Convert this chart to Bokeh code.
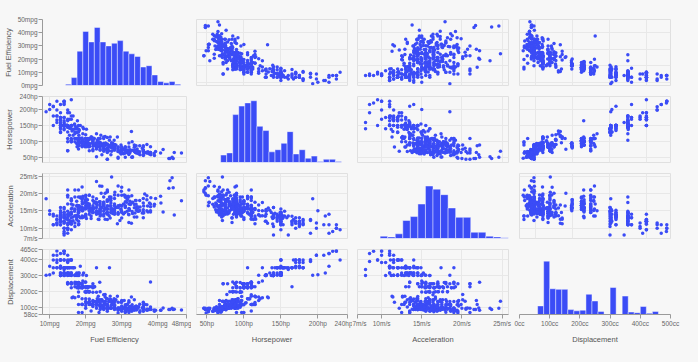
import numpy as np
from bokeh.plotting import figure
from bokeh.layouts import gridplot
from bokeh.models import Range1d, FixedTicker, PrintfTickFormatter, Grid, ColumnDataSource
from bokeh.embed import file_html
from bokeh.resources import INLINE

# ---- per-car values (None = missing) ----
mpg = [18,15,18,16,17,15,14,14,14,15,15,14,15,14,24,22,18,21,27,26,25,24,25,26,21,10,10,11,9,
27,28,25,25,19,16,17,19,18,14,14,14,14,12,13,13,18,22,19,18,23,28,30,30,31,35,27,26,
24,25,23,20,21,13,14,15,14,17,11,13,12,13,19,15,13,13,14,18,22,21,26,22,28,23,28,27,
13,14,13,14,15,12,13,13,14,13,12,13,18,16,18,18,23,26,11,12,13,12,18,20,21,22,18,19,21,26,15,16,29,24,20,19,15,24,20,11,
20,21,19,15,31,26,32,25,16,16,18,16,13,14,14,14,29,26,26,31,32,28,24,26,24,26,31,
19,18,15,15,16,15,16,14,17,16,15,18,21,20,13,29,23,20,23,24,25,24,18,29,19,23,23,22,25,33,
28,25,25,26,27,17.5,16,15.5,14.5,22,22,24,22.5,29,24.5,29,33,20,18,18.5,17.5,29.5,32,28,26.5,20,13,19,19,16.5,16.5,13,13,13,
31.5,30,36,25.5,33.5,17.5,17,15.5,15,17.5,20.5,19,18.5,16,15.5,15.5,16,29,24.5,26,25.5,30.5,33.5,30,30.5,22,21.5,21.5,
43.1,36.1,32.8,39.4,36.1,19.9,19.4,20.2,19.2,20.5,20.2,25.1,20.5,19.4,20.6,20.8,18.6,18.1,19.2,17.7,18.1,17.5,30,27.5,27.2,30.9,21.1,23.2,23.8,23.9,20.3,17,21.6,16.2,31.5,29.5,
21.5,19.8,22.3,20.2,20.6,17,17.6,16.5,18.2,16.9,15.5,19.2,18.5,31.9,34.1,35.7,27.4,25.4,23,27.2,23.9,34.2,34.5,31.8,37.3,28.4,28.8,26.8,33.5,
41.5,38.1,32.1,37.2,28,26.4,24.3,19.1,34.3,29.8,31.3,37,32.2,46.6,27.9,40.8,44.3,43.4,36.4,30,44.6,40.9,33.8,29.8,32.7,23.7,35,23.6,32.4,
27.2,26.6,25.8,23.5,30,39.1,39,35.1,32.3,37,37.7,34.1,34.7,34.4,29.9,33,34.5,33.7,32.4,32.9,31.6,28.1,30.7,25.4,24.2,22.4,26.6,20.2,17.6,
28,27,34,31,29,27,24,36,37,31,38,36,36,36,34,38,32,38,25,38,26,22,32,36,27,27,44,32,28,31,
None,None,None,None,None,None,None,None]

horsepower = [130,165,150,150,140,198,220,215,225,190,170,160,150,225,95,95,97,85,88,46,87,90,95,113,90,215,200,210,193,
88,90,95,None,100,105,100,88,100,165,175,153,150,180,170,175,110,72,100,88,86,90,70,76,65,69,60,70,
95,80,54,90,86,165,175,150,153,150,208,155,160,190,97,150,130,140,150,112,76,87,69,86,92,97,80,88,
175,150,145,137,150,198,150,158,150,215,225,175,105,100,100,88,95,46,150,167,170,180,100,88,72,94,90,85,107,90,145,230,49,75,91,112,150,110,122,180,
95,None,100,100,67,80,65,75,100,110,105,140,150,150,140,150,83,67,78,52,61,75,75,75,97,93,67,
95,105,72,72,170,145,150,148,110,105,110,95,110,110,129,75,83,100,78,96,71,97,97,70,90,95,88,98,115,53,
86,81,92,79,83,140,150,120,152,100,105,81,90,52,60,70,53,100,78,110,95,71,70,75,72,102,150,88,108,120,180,145,130,150,
68,80,58,96,70,145,110,145,130,110,105,100,98,180,170,190,149,78,88,75,89,63,83,67,78,97,110,110,
48,66,52,70,60,110,140,139,105,95,85,88,100,90,105,85,110,120,145,165,139,140,68,95,97,75,95,105,85,97,103,125,115,133,71,68,
115,85,88,90,110,130,129,138,135,155,142,125,150,71,65,80,80,77,125,71,90,70,70,65,69,90,115,115,90,
76,60,70,65,90,88,90,90,78,90,75,92,75,65,105,65,48,48,67,67,67,None,67,62,132,100,88,None,72,
84,84,92,110,84,58,64,60,67,65,62,68,63,65,65,74,None,75,75,100,74,80,76,116,120,110,105,88,85,
88,88,88,85,84,90,92,74,68,68,63,70,88,75,70,67,67,67,110,85,92,112,96,84,90,86,52,84,79,82,
115,165,153,175,175,140,48,110]

acceleration = [12,11.5,11,12,10.5,10,9,8.5,10,8.5,10,8,9.5,10,15,15.5,15.5,16,14.5,20.5,17.5,14.5,17.5,12.5,15,14,15,13.5,18.5,
14.5,15.5,14,19,13,15.5,15.5,15.5,15.5,12,11.5,13.5,13,11.5,12,12,13.5,19,15,14.5,14,14,19.5,14.5,19,18,19,20.5,
15.5,17,23.5,19.5,16.5,12,12,13.5,13,11.5,11,13.5,13.5,12.5,13.5,12.5,14,16,14,14.5,18,19.5,18,16,17,14.5,15,16.5,
13,11.5,13,14.5,12.5,11.5,12,13,14.5,11,11,11,16.5,18,16,16.5,16,21,14,12.5,13,12.5,15,19,19.5,16.5,13.5,18.5,14,15.5,13,9.5,19.5,15.5,14,15.5,11,14,13.5,11,
16.5,17,16,17,19,16.5,21,17,17,18,16.5,14,14.5,13.5,16,15.5,16.5,15.5,14.5,16.5,19,14.5,15.5,14,15,15.5,16,
16,16,21,19.5,11.5,14,14.5,13.5,21,18.5,19,19,15,13.5,12,16,17,16,18.5,13.5,16.5,17,14.5,14,17,15,17,14.5,13.5,17.5,
15.5,16.9,14.9,17.7,15.3,13,13,13.9,12.8,15.4,14.5,17.6,17.6,22.2,22.1,14.2,17.4,17.7,21,16.2,17.8,12.2,17,16.4,13.6,15.7,13.2,21.9,15.5,16.7,12.1,12,15,14,
18.5,14.8,18.6,15.5,16.8,12.5,19,13.7,14.9,16.4,16.9,17.7,19,11.1,11.4,12.2,14.5,14.5,16,18.2,15.8,17,15.9,16.4,14.1,14.5,12.8,13.5,
21.5,14.4,19.4,18.6,16.4,15.5,13.2,12.8,19.2,18.2,15.8,15.4,17.2,17.2,15.8,16.7,18.7,15.1,13.2,13.4,11.2,13.7,16.5,14.2,14.7,14.5,14.8,16.7,17.6,14.9,15.9,13.6,15.7,15.8,14.9,16.6,
15.4,18.2,17.3,18.2,16.6,15.4,13.4,13.2,15.2,14.9,14.3,15,13,14,15.2,14.4,15,20.1,17.4,24.8,22.2,13.2,14.9,19.2,14.7,16,11.3,12.9,13.2,
14.7,18.8,15.5,16.4,16.5,18.1,20.1,18.7,15.8,15.5,17.5,15,15.2,17.9,14.4,19.2,21.7,23.7,19.9,21.8,13.8,17.3,18,15.3,11.4,12.5,15.1,14.3,17,
15.7,16.4,14.4,12.6,12.9,16.9,16.4,16.1,17.8,19.4,17.3,16,14.9,16.2,20.7,14.2,15.8,14.4,16.8,14.8,18.3,20.4,19.6,12.6,13.8,15.8,19,17.1,16.6,
19.6,18.6,18,16.2,16,18,16.4,15.3,18.2,17.6,14.7,17.3,14.5,14.5,16.9,15,15.7,16.2,16.4,17,14.5,14.7,13.9,13,17.3,15.6,24.6,11.6,18.6,19.4,
17.5,11,11,10.5,11,8,20,14.5]

displacement = [307,350,318,304,302,429,454,440,455,390,383,340,400,455,113,198,199,200,97,97,110,107,104,121,199,360,307,318,304,
97,140,113,98,232,225,250,250,232,350,400,351,318,383,400,400,258,140,250,250,122,116,79,88,71,72,97,91,
113,97.5,97,140,122,350,400,318,351,304,429,350,350,400,70,304,307,302,318,121,121,120,96,122,97,120,98,97,
350,304,350,302,318,429,400,351,318,440,455,360,225,250,232,250,198,97,400,400,360,350,232,97,140,108,70,122,155,98,350,400,68,116,114,121,318,121,156,350,
198,200,232,250,79,122,71,140,250,258,225,302,350,318,302,304,98,79,97,76,83,90,90,116,120,108,79,
225,250,250,250,400,350,318,351,231,250,258,225,231,262,302,97,140,232,140,134,90,119,171,90,232,115,120,121,121,91,
107,116,140,98,101,305,318,304,351,225,250,200,232,85,98,90,91,225,250,250,258,97,85,97,140,130,318,120,156,168,350,350,302,318,
98,111,79,122,85,305,260,318,302,250,231,225,250,400,350,400,351,97,151,97,140,98,98,97,97,146,121,80,
90,98,78,85,91,260,318,302,231,200,200,140,225,232,231,200,225,258,305,231,302,318,98,134,119,105,134,156,151,119,131,163,121,163,89,98,
231,200,140,232,225,305,302,351,318,350,351,267,360,89,86,98,121,183,350,141,260,105,105,85,91,151,173,173,151,
98,89,98,86,151,140,151,225,97,134,120,119,108,86,156,85,90,90,121,146,91,85,97,89,168,70,122,140,107,
135,151,156,173,135,79,86,81,97,85,89,91,105,98,98,105,100,107,108,119,120,141,145,168,146,231,350,200,225,
112,112,112,112,135,151,140,105,91,91,105,98,120,107,108,91,91,91,181,262,156,232,144,135,151,140,97,135,120,119,
133,350,351,383,360,302,97,121]

# ---- histogram bars ----
mpg_bins = list(range(8, 50, 2))
mpg_counts = [1,6,26,41,33,44,33,30,32,34,26,24,22,14,15,8,3,2,3,1]
hp_bins = list(range(40, 250, 10))
hp_counts = [7,9,45,53,56,58,34,30,10,12,18,29,8,12,4,6,1,3,3,1]
accel_bins = list(range(8, 26, 1))
accel_counts = [3,2,6,23,28,44,67,63,56,39,27,27,8,8,3,2,1]
disp_bins = list(range(60, 480, 20))
disp_counts = [14,87,42,41,41,8,6,7,33,22,5,0,44,0,30,4,3,13,2,5]

# ---- axis ticks ----
mpg_ticks = [10, 20, 30, 40, 48]
hp_ticks = [50, 100, 150, 200, 240]
accel_ticks = [7, 10, 15, 20, 25]
disp_ticks = [58, 100, 200, 300, 400, 465]
mpg_hist_y_ticks = [0, 10, 20, 30, 40, 50]
disp_hist_x_ticks = [0, 100, 200, 300, 400, 500]

fields = [
    dict(key="mpg", title="Fuel Efficiency", unit="mpg", rng=(8, 48), ticks=mpg_ticks,
         bins=mpg_bins, counts=mpg_counts, hx=(0, 50), hy=(0, 50)),
    dict(key="hp", title="Horsepower", unit="hp", rng=(36, 240), ticks=hp_ticks,
         bins=hp_bins, counts=hp_counts, hx=(0, 250), hy=(0, 62)),
    dict(key="acc", title="Acceleration", unit="m/s", rng=(7, 25.8), ticks=accel_ticks,
         bins=accel_bins, counts=accel_counts, hx=(5, 25), hy=(0, 83)),
    dict(key="disp", title="Displacement", unit="cc", rng=(58, 465), ticks=disp_ticks,
         bins=disp_bins, counts=disp_counts, hx=(0, 500), hy=(0, 106)),
]

src = ColumnDataSource(dict(
    mpg=np.array(mpg, dtype=float),
    hp=np.array(horsepower, dtype=float),
    acc=np.array(acceleration, dtype=float),
    disp=np.array(displacement, dtype=float),
))

BLUE = "#3b4cf6"
BG = "#f7f7f7"
FONT = "Liberation Sans"
FRAME_W = [151, 151, 151, 151]
FRAME_H = [66, 66, 65, 65]
COL_L = [35, 5, 5, 6]
COL_R = [5, 5, 5, 28]
ROW_T = [19, 6, 6, 6]
ROW_B = [5, 5, 5, 48]


def style_axis(ax, ticks, unit, label, standoff):
    ax.ticker = FixedTicker(ticks=ticks)
    ax.formatter = PrintfTickFormatter(format="%d" + unit)
    ax.axis_label = label
    ax.axis_line_color = "#9a9a9a"
    ax.major_tick_line_color = "#9a9a9a"
    ax.major_tick_out = 4
    ax.major_tick_in = 0
    ax.minor_tick_line_color = None
    ax.major_label_text_font = FONT
    ax.major_label_text_font_size = "6.5px"
    ax.major_label_text_color = "#666666"
    ax.major_label_standoff = 1
    ax.axis_label_text_font = FONT
    ax.axis_label_text_font_size = "7.5px"
    ax.axis_label_text_font_style = "normal"
    ax.axis_label_text_color = "#555555"
    ax.axis_label_standoff = standoff


rows = []
for r, fy in enumerate(fields):
    row = []
    for c, fx in enumerate(fields):
        diag = r == c
        xr = fx["hx"] if diag else fx["rng"]
        yr = fy["hy"] if diag else fy["rng"]
        p = figure(
            width=COL_L[c] + FRAME_W[c] + COL_R[c],
            height=ROW_T[r] + FRAME_H[r] + ROW_B[r],
            x_range=Range1d(*xr), y_range=Range1d(*yr),
            x_axis_location="below" if r == 3 else None,
            y_axis_location="left" if c == 0 else None,
            toolbar_location=None, output_backend="svg",
            min_border_left=COL_L[c], min_border_right=COL_R[c],
            min_border_top=ROW_T[r], min_border_bottom=ROW_B[r],
            background_fill_color=BG, border_fill_color=BG,
        )
        p.center = [g for g in p.center if not isinstance(g, Grid)]
        if diag:
            p.outline_line_color = None
            p.quad(left=fx["bins"][:-1], right=fx["bins"][1:], bottom=0, top=fx["counts"],
                   fill_color=BLUE, line_color="white", line_alpha=0.55, line_width=0.8)
        else:
            p.outline_line_color = "#e0e0e0"
            gx = Grid(dimension=0, ticker=FixedTicker(ticks=fx["ticks"]),
                      grid_line_color="#e8e8e8", grid_line_width=1)
            gy = Grid(dimension=1, ticker=FixedTicker(ticks=fy["ticks"]),
                      grid_line_color="#e8e8e8", grid_line_width=1)
            p.add_layout(gx)
            p.add_layout(gy)
            p.scatter(x=fx["key"], y=fy["key"], source=src, size=3.5,
                      fill_color=BLUE, line_color=None)
        if r == 3:
            ticks = disp_hist_x_ticks if diag else fx["ticks"]
            style_axis(p.xaxis[0], ticks, fx["unit"], fx["title"], 5)
        if c == 0:
            ticks = mpg_hist_y_ticks if diag else fy["ticks"]
            style_axis(p.yaxis[0], ticks, fy["unit"], fy["title"], 2)
        p.styles = {"background-color": BG}
        row.append(p)
    rows.append(row)

grid = gridplot(rows, toolbar_location=None)
grid.styles = {"background-color": BG}
open("out.html", "w").write(file_html(grid, INLINE))
